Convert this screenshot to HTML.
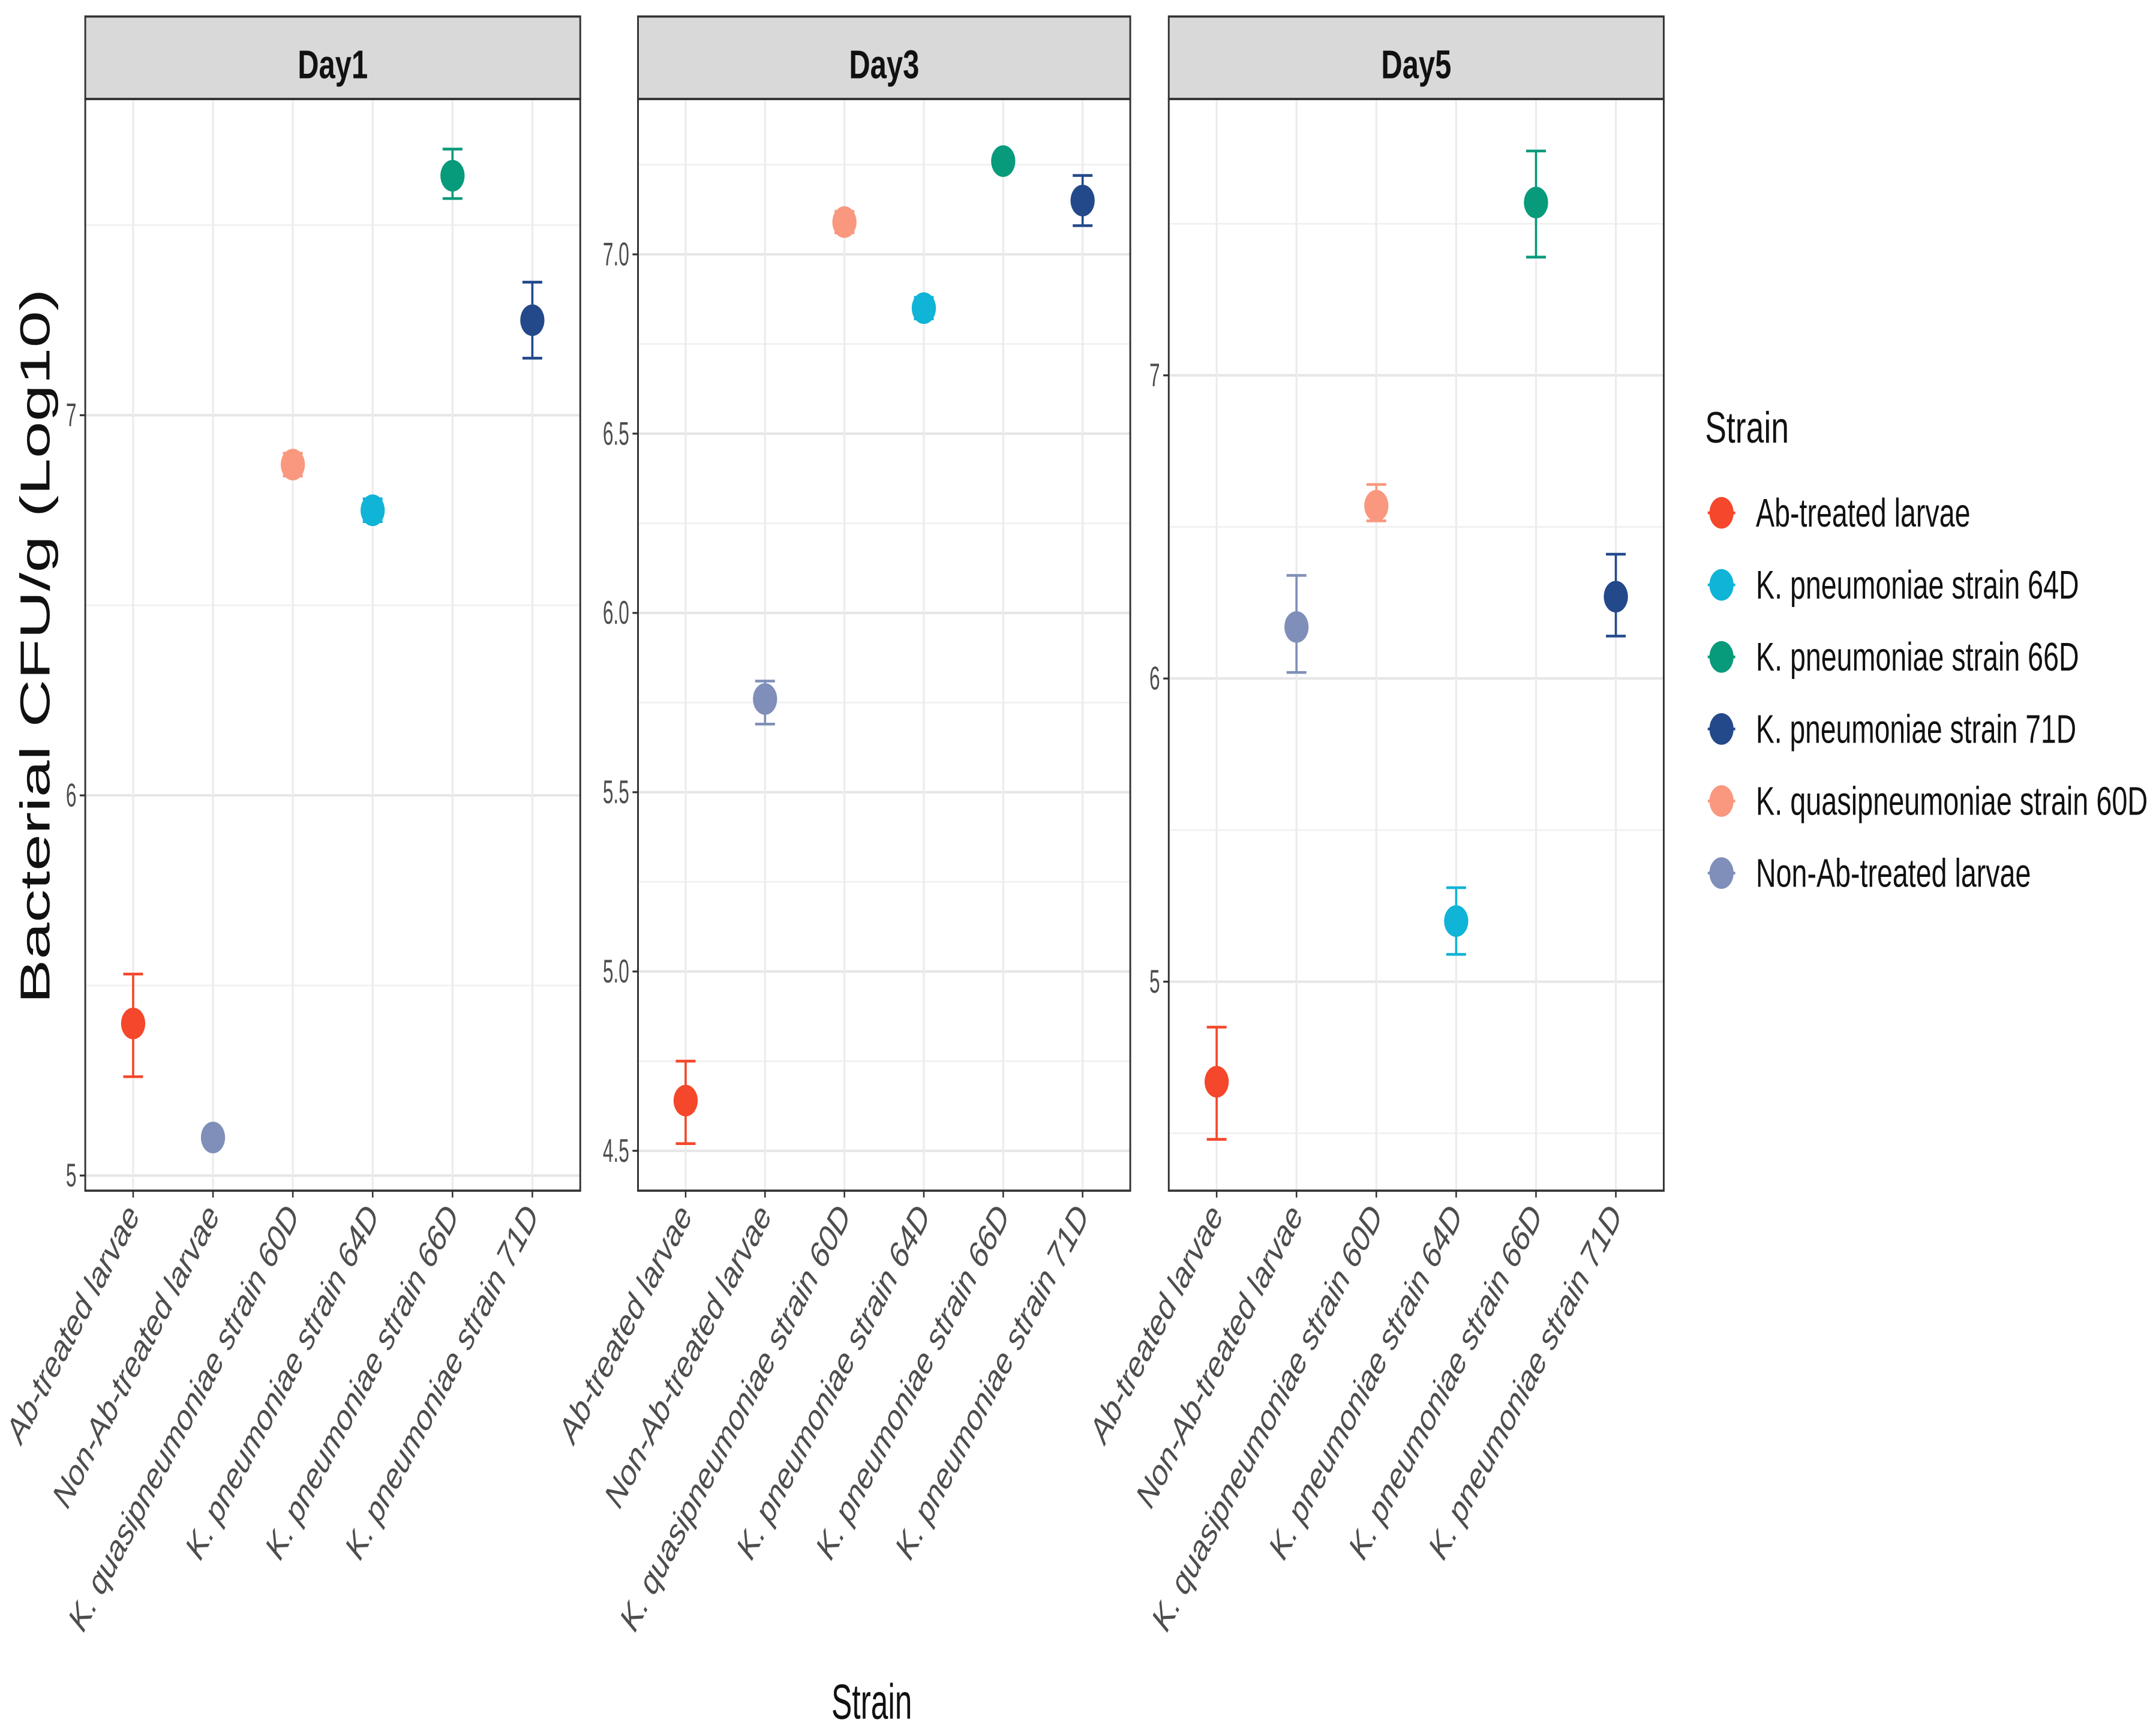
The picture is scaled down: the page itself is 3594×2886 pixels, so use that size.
<!DOCTYPE html>
<html><head><meta charset="utf-8"><style>
html,body{margin:0;padding:0;background:#fff;}
svg{display:block;}
text{font-family:"Liberation Sans",sans-serif;}
</style></head><body>
<svg id="chart" width="3594" height="2886" viewBox="0 0 1960 1259" preserveAspectRatio="none" xmlns="http://www.w3.org/2000/svg"></svg>
<script>
const categories = ["Ab-treated larvae","Non-Ab-treated larvae","K. quasipneumoniae strain 60D","K. pneumoniae strain 64D","K. pneumoniae strain 66D","K. pneumoniae strain 71D"];
const panelNames = ["Day1","Day3","Day5"];
const day1Mean = [5.40,5.10,6.87,6.75,7.63,7.25];
const day1Low  = [5.26,5.08,6.84,6.72,7.57,7.15];
const day1High = [5.53,5.12,6.90,6.78,7.70,7.35];
const day3Mean = [4.64,5.76,7.09,6.85,7.26,7.15];
const day3Low  = [4.52,5.69,7.06,6.82,7.24,7.08];
const day3High = [4.75,5.81,7.12,6.88,7.28,7.22];
const day5Mean = [4.67,6.17,6.57,5.20,7.57,6.27];
const day5Low  = [4.48,6.02,6.52,5.09,7.39,6.14];
const day5High = [4.85,6.34,6.64,5.31,7.74,6.41];
const day1Ticks = [5,6,7];
const day3Ticks = [4.5,5.0,5.5,6.0,6.5,7.0];
const day5Ticks = [5,6,7];
const day1TickLabels = ["5","6","7"];
const day3TickLabels = ["4.5","5.0","5.5","6.0","6.5","7.0"];
const day5TickLabels = ["5","6","7"];
const legendLabels = ["Ab-treated larvae","K. pneumoniae strain 64D","K. pneumoniae strain 66D","K. pneumoniae strain 71D","K. quasipneumoniae strain 60D","Non-Ab-treated larvae"];

const colorMap = {"Ab-treated larvae":"#F4472B","Non-Ab-treated larvae":"#7F8FB9","K. quasipneumoniae strain 60D":"#F9987E","K. pneumoniae strain 64D":"#10B4D6","K. pneumoniae strain 66D":"#079A7B","K. pneumoniae strain 71D":"#23498A"};
const S = 1.25;
const svg = document.getElementById('chart');
const NS = 'http://www.w3.org/2000/svg';
function mk(tag, attrs, parent){const e=document.createElementNS(NS,tag);for(const k in attrs)e.setAttribute(k,attrs[k]);(parent||svg).appendChild(e);return e;}

const panels = [
 {x0:62,x1:422,mean:day1Mean,low:day1Low,high:day1High,ticks:day1Ticks,labels:day1TickLabels,v0:5,p0:855,v1:7,p1:302,minor:[5.5,6.5,7.5]},
 {x0:464,x1:822,mean:day3Mean,low:day3Low,high:day3High,ticks:day3Ticks,labels:day3TickLabels,v0:4.5,p0:837,v1:7.0,p1:185,minor:[4.75,5.25,5.75,6.25,6.75,7.25]},
 {x0:850,x1:1210,mean:day5Mean,low:day5Low,high:day5High,ticks:day5Ticks,labels:day5TickLabels,v0:5,p0:714,v1:7,p1:273,minor:[4.5,5.5,6.5,7.5]}
];
const plotTop=72, plotBottom=866, stripTop=12;

panels.forEach((p,pi)=>{
  const g = mk('g',{});
  
  
  const X0=p.x0*S, X1=p.x1*S, W=X1-X0;
  const step = W/(categories.length+0.2);
  const xs = i => X0 + step*(0.6+i);
  const ys = v => p.p0 + (v-p.v0)*(p.p1-p.p0)/(p.v1-p.v0);
  mk('rect',{x:X0,y:plotTop,width:W,height:plotBottom-plotTop,fill:'#fff'},g);
  p.minor.forEach(v=>{const y=ys(v); if(y>plotTop&&y<plotBottom) mk('line',{x1:X0,x2:X1,y1:y,y2:y,stroke:'#f0f0f0','stroke-width':1.2},g);});
  p.ticks.forEach(v=>{const y=ys(v); mk('line',{x1:X0,x2:X1,y1:y,y2:y,stroke:'#e6e6e6','stroke-width':1.8},g);});
  categories.forEach((c,i)=>mk('line',{x1:xs(i),x2:xs(i),y1:plotTop,y2:plotBottom,stroke:'#ececec','stroke-width':1.8},g));
  const st = mk('rect',{x:X0,y:stripTop,width:W,height:plotTop-stripTop,fill:'#d9d9d9',stroke:'#333','stroke-width':1.6},g);
  
  
  const cx=(X0+X1)/2;
  const stt = mk('text',{x:cx,y:57,'text-anchor':'middle','font-size':29,'font-weight':'bold',fill:'#111',transform:`translate(${cx},0) scale(0.92,1) translate(${-cx},0)`},g);
  stt.textContent=panelNames[pi];
  
  
  mk('rect',{x:X0,y:plotTop,width:W,height:plotBottom-plotTop,fill:'none',stroke:'#333','stroke-width':1.6},g);
  p.ticks.forEach((v,i)=>{const y=ys(v);
    mk('line',{x1:X0-5,x2:X0,y1:y,y2:y,stroke:'#333','stroke-width':1.4},g);
    const t=mk('text',{x:X0-8,y:y+8,'text-anchor':'end','font-size':24,fill:'#4d4d4d',transform:`translate(${X0-8},0) scale(0.72,1) translate(${-(X0-8)},0)`},g);
    t.textContent=p.labels[i];
    
    
  });
  categories.forEach((c,i)=>{const x=xs(i);
    mk('line',{x1:x,x2:x,y1:plotBottom,y2:plotBottom+5,stroke:'#333','stroke-width':1.4},g);
    const t=mk('text',{x:0,y:0,'text-anchor':'end','font-size':26,'font-style':'italic',fill:'#4d4d4d',transform:`translate(${x+7},${plotBottom+18}) rotate(-57)`},g);
    t.textContent=c;
    
    
  });
  categories.forEach((c,i)=>{const x=xs(i), col=colorMap[c];
    const eg=mk('g',{},g);
    
    
    const yl=ys(p.low[i]), yh=ys(p.high[i]);
    mk('line',{x1:x,x2:x,y1:yl,y2:yh,stroke:col,'stroke-width':2},eg);
    mk('line',{x1:x-9,x2:x+9,y1:yl,y2:yl,stroke:col,'stroke-width':2},eg);
    mk('line',{x1:x-9,x2:x+9,y1:yh,y2:yh,stroke:col,'stroke-width':2},eg);
    mk('ellipse',{cx:x,cy:ys(p.mean[i]),rx:11,ry:11.5,fill:col},eg);
  });
});

const yt=mk('text',{x:0,y:0,'text-anchor':'middle','font-size':38,fill:'#111',textLength:520,lengthAdjust:'spacingAndGlyphs',transform:`translate(${36*S},470) rotate(-90)`});
yt.textContent='Bacterial CFU/g (Log10)';


const xt=mk('text',{x:0,y:0,'text-anchor':'middle','font-size':36,fill:'#111',transform:`translate(${634*S},1250) scale(0.78,1)`});
xt.textContent='Strain';



const lg=mk('g',{});


const ltt=mk('text',{x:1240*S,y:322,'font-size':32,fill:'#111',textLength:61*S,lengthAdjust:'spacingAndGlyphs'},lg);
ltt.textContent='Strain';


const lw=[156,235,235,233,285,200];
legendLabels.forEach((l,i)=>{const y=373+i*52.4;
  const e=mk('g',{},lg);
  
  
  mk('line',{x1:1242*S,x2:1262*S,y1:y,y2:y,stroke:colorMap[l],'stroke-width':2},e);
  mk('ellipse',{cx:1252*S,cy:y,rx:11,ry:11.5,fill:colorMap[l]},e);
  const t=mk('text',{x:1277*S,y:y+10,'font-size':29,fill:'#111',textLength:lw[i]*S,lengthAdjust:'spacingAndGlyphs'},e);
  t.textContent=l;
});
</script>
</body></html>
